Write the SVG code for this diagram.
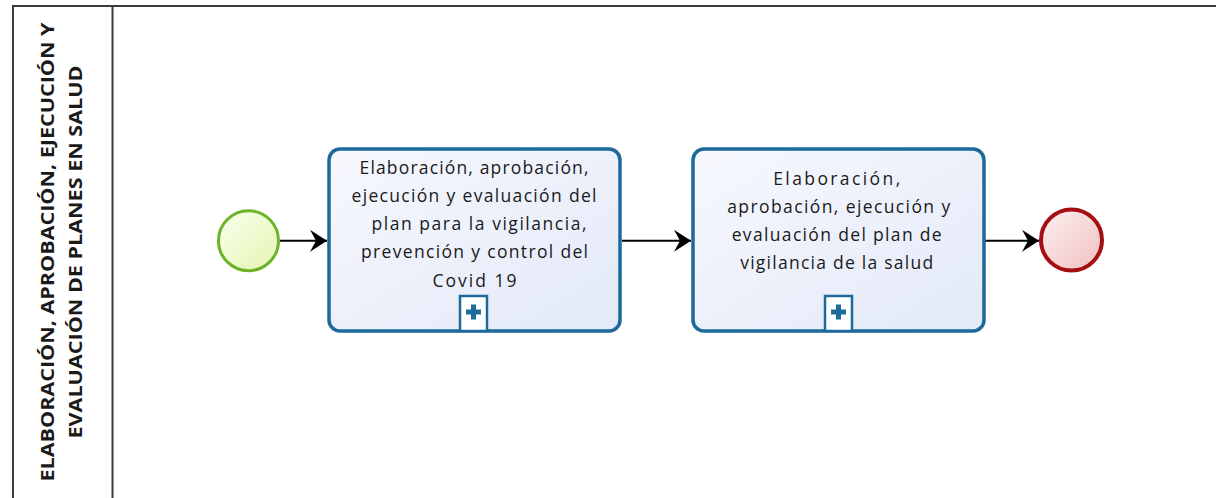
<svg xmlns="http://www.w3.org/2000/svg" width="1216" height="498" viewBox="0 0 1216 498">
  <style>
    .pool { fill: none; stroke: #3c3c3c; stroke-width: 2; }
    .lbl { font-family: "Open Sans", "Liberation Sans", sans-serif; font-weight: 700; font-size: 17px; fill: #1a1a1a; }
    .task { stroke: #1d6a98; stroke-width: 3.5; }
    .ttxt { font-family: "Open Sans", "Liberation Sans", sans-serif; font-size: 17.5px; fill: #1a1a1a; text-anchor: middle; }
    .mk { fill: #ffffff; stroke: #1d6a98; stroke-width: 2.5; }
    .plus { fill: #1d6a98; }
    .flow { fill: none; stroke: #000000; stroke-width: 2; }
  </style>
  <defs>
    <linearGradient id="gTask" x1="0" y1="0" x2="1" y2="1">
      <stop offset="0" stop-color="#f7f8fe"/>
      <stop offset="1" stop-color="#e3e9f8"/>
    </linearGradient>
    <linearGradient id="gStart" x1="0" y1="0" x2="1" y2="1">
      <stop offset="0" stop-color="#fafff0"/>
      <stop offset="1" stop-color="#e4f5b0"/>
    </linearGradient>
    <linearGradient id="gEnd" x1="0" y1="0" x2="1" y2="1">
      <stop offset="0" stop-color="#fdf0f0"/>
      <stop offset="1" stop-color="#efc0c0"/>
    </linearGradient>
    <marker id="arr" markerUnits="userSpaceOnUse" markerWidth="20" markerHeight="26" viewBox="-18 -12 20 24" refX="0" refY="0" orient="auto">
      <path d="M0,0 L-17,-11 L-11,0 L-17,11 Z" fill="#000000"/>
    </marker>
  </defs>

  <g id="pool">
    <path class="pool" d="M1216,6 H13 V498 M112.5,6 V498"/>
    <g id="lane-label">
      <text class="lbl" transform="translate(53.5,252) rotate(-90)" text-anchor="middle" textLength="459" lengthAdjust="spacingAndGlyphs">ELABORACIÓN, APROBACIÓN, EJECUCIÓN Y</text>
      <text class="lbl" transform="translate(81.5,252) rotate(-90)" text-anchor="middle" textLength="373" lengthAdjust="spacingAndGlyphs">EVALUACIÓN DE PLANES EN SALUD</text>
    </g>
  </g>

  <g id="connectors">
    <path class="flow" d="M280,240.7 H327" marker-end="url(#arr)"/>
    <path class="flow" d="M622,240.7 H691" marker-end="url(#arr)"/>
    <path class="flow" d="M985,240.7 H1039" marker-end="url(#arr)"/>
  </g>

  <g id="start">
    <circle cx="248.5" cy="240.7" r="30" fill="url(#gStart)" stroke="#6cb32a" stroke-width="3"/>
  </g>

  <g id="task1">
    <rect class="task" x="329" y="149" width="291" height="182" rx="11" fill="url(#gTask)"/>
    <text class="ttxt" x="474" y="173.5" textLength="229" lengthAdjust="spacing">Elaboración, aprobación,</text>
    <text class="ttxt" x="474" y="201.8" textLength="245" lengthAdjust="spacing">ejecución y evaluación del</text>
    <text class="ttxt" x="479" y="230" textLength="215" lengthAdjust="spacing">plan para la vigilancia,</text>
    <text class="ttxt" x="474.5" y="258.3" textLength="227" lengthAdjust="spacing">prevención y control del</text>
    <text class="ttxt" x="474.5" y="286.7" textLength="84" lengthAdjust="spacing">Covid 19</text>
    <rect class="mk" x="460" y="296" width="27" height="35"/>
    <path class="plus" d="M471,304.5 h5 v5 h5 v5 h-5 v5 h-5 v-5 h-5 v-5 h5 Z"/>
  </g>

  <g id="task2">
    <rect class="task" x="693" y="149" width="291" height="182" rx="11" fill="url(#gTask)"/>
    <text class="ttxt" x="836.7" y="185" textLength="127" lengthAdjust="spacing">Elaboración,</text>
    <text class="ttxt" x="838.7" y="213" textLength="223" lengthAdjust="spacing">aprobación, ejecución y</text>
    <text class="ttxt" x="836.7" y="241" textLength="210" lengthAdjust="spacing">evaluación del plan de</text>
    <text class="ttxt" x="836.7" y="269.3" textLength="193" lengthAdjust="spacing">vigilancia de la salud</text>
    <rect class="mk" x="825" y="296" width="27" height="35"/>
    <path class="plus" d="M836,304.5 h5 v5 h5 v5 h-5 v5 h-5 v-5 h-5 v-5 h5 Z"/>
  </g>

  <g id="end">
    <circle cx="1071.5" cy="240" r="30.5" fill="url(#gEnd)" stroke="#a30f12" stroke-width="4"/>
  </g>
</svg>
